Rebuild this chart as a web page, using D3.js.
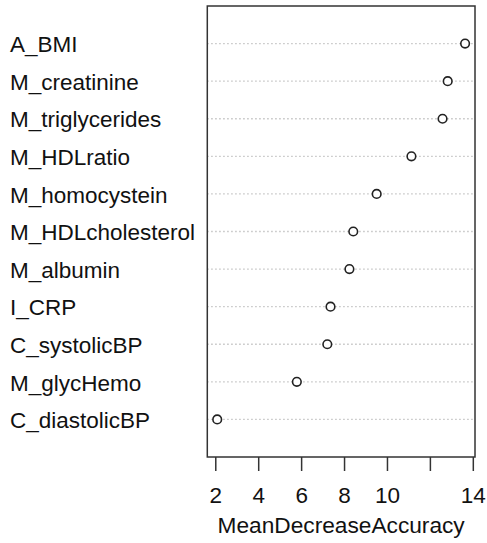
<!DOCTYPE html>
<html>
<head>
<meta charset="utf-8">
<script src="https://cdn.jsdelivr.net/npm/d3@7"></script>
<style>
  body { margin: 0; background: #fff; }
  text { font-family: "Liberation Sans", Arial, sans-serif; fill: #111; }
</style>
</head>
<body>
<svg id="stage" width="487" height="543"></svg>
<script>
// variables, top to bottom
var vars = ["A_BMI", "M_creatinine", "M_triglycerides", "M_HDLratio", "M_homocystein",
            "M_HDLcholesterol", "M_albumin", "I_CRP", "C_systolicBP", "M_glycHemo", "C_diastolicBP"];
var meanDecreaseAccuracy = [13.64, 12.83, 12.59, 11.14, 9.52, 8.43, 8.25, 7.37, 7.22, 5.80, 2.09];

var tickValues = [2, 4, 6, 8, 10, 12, 14];
var tickLabels = ["2", "4", "6", "8", "10", "", "14"]; // 12 dropped (overlap), as in R
var xTitle = "MeanDecreaseAccuracy";

var svg = d3.select("#stage");

var box = {left: 207.3, right: 475, top: 6, bottom: 457};

// x range like R: data range stretched by 4%
var ext = d3.extent(meanDecreaseAccuracy);
var pad = (ext[1] - ext[0]) * 0.04;
var x = d3.scaleLinear().domain([ext[0] - pad, ext[1] + pad]).range([box.left, box.right]);

// row positions: n..1 top to bottom, ylim 0..n+1
var n = vars.length;
var y = d3.scaleLinear().domain([0, n + 1]).range([box.bottom, box.top]);
function rowY(i) { return y(n - i); }

// dotted guide lines
svg.append("g").selectAll("line")
  .data(vars)
  .enter().append("line")
  .attr("x1", box.left)
  .attr("x2", box.right)
  .attr("y1", function(d, i) { return rowY(i); })
  .attr("y2", function(d, i) { return rowY(i); })
  .attr("stroke", "#b8b8b8")
  .attr("stroke-width", 1.3)
  .attr("stroke-dasharray", "1.3,2.7");

// points
svg.append("g").selectAll("circle")
  .data(meanDecreaseAccuracy)
  .enter().append("circle")
  .attr("cx", function(d) { return x(d); })
  .attr("cy", function(d, i) { return rowY(i); })
  .attr("r", 4.3)
  .attr("fill", "#fff")
  .attr("stroke", "#222")
  .attr("stroke-width", 1.6);

// labels on the left
svg.append("g").selectAll("text")
  .data(vars)
  .enter().append("text")
  .attr("x", 10)
  .attr("y", function(d, i) { return rowY(i) + 8.7; })
  .style("font-size", "22.5px")
  .text(function(d) { return d; });

// frame
svg.append("rect")
  .attr("x", box.left)
  .attr("y", box.top)
  .attr("width", box.right - box.left)
  .attr("height", box.bottom - box.top)
  .attr("fill", "none")
  .attr("stroke", "#333")
  .attr("stroke-width", 1.5);

// x axis
var axis = d3.axisBottom(x)
  .tickValues(tickValues)
  .tickSize(14)
  .tickPadding(16)
  .tickFormat(function(d, i) { return tickLabels[i]; });

var gx = svg.append("g")
  .attr("transform", "translate(0," + box.bottom + ")")
  .call(axis);
gx.select(".domain").remove();
gx.selectAll(".tick line").attr("stroke", "#333").attr("stroke-width", 1.5);
gx.selectAll(".tick text")
  .attr("fill", "#111")
  .style("font-family", "Liberation Sans, Arial, sans-serif")
  .style("font-size", "22.5px");

svg.append("text")
  .attr("x", (box.left + box.right) / 2)
  .attr("y", 533)
  .attr("text-anchor", "middle")
  .style("font-size", "22.7px")
  .text(xTitle);
</script>
</body>
</html>
